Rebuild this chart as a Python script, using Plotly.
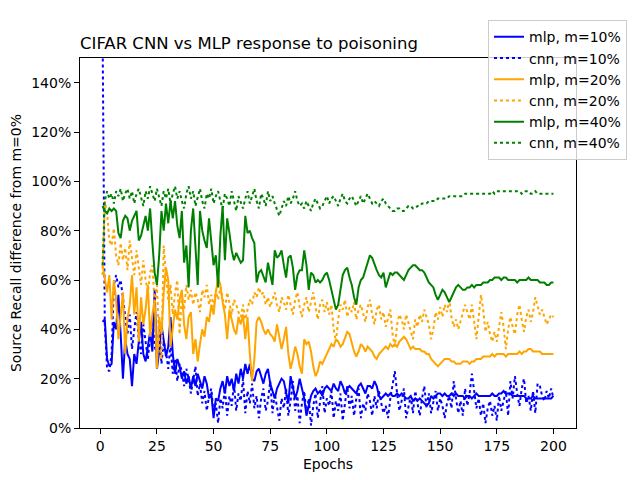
import plotly.graph_objects as go

epochs = list(range(1, 201))

mlp_10 = [
    0.43, 0.44, 0.28, 0.25, 0.26, 0.43, 0.40, 0.54, 0.38, 0.20,
    0.36, 0.30, 0.28, 0.17, 0.30, 0.26, 0.35, 0.43, 0.30, 0.27,
    0.33, 0.39, 0.31, 0.56, 0.24, 0.31, 0.42, 0.36, 0.29, 0.33,
    0.45, 0.30, 0.22, 0.28, 0.25, 0.20, 0.23, 0.18, 0.21, 0.16,
    0.21, 0.17, 0.22, 0.19, 0.16, 0.21, 0.18, 0.12, 0.14, 0.04,
    0.12, 0.11, 0.16, 0.19, 0.14, 0.21, 0.17, 0.20, 0.15, 0.22,
    0.18, 0.24, 0.20, 0.26, 0.22, 0.26, 0.20, 0.19, 0.23, 0.24,
    0.21, 0.18, 0.22, 0.24, 0.18, 0.15, 0.12, 0.16, 0.18, 0.20,
    0.19, 0.14, 0.10, 0.21, 0.17, 0.12, 0.15, 0.20, 0.16, 0.12,
    0.05, 0.09, 0.13, 0.15, 0.16, 0.14, 0.15, 0.13, 0.16, 0.17,
    0.16, 0.15, 0.18, 0.16, 0.15, 0.19, 0.17, 0.14, 0.16, 0.17,
    0.16, 0.15, 0.14, 0.17, 0.18, 0.16, 0.14, 0.17, 0.17, 0.16,
    0.19, 0.17, 0.13, 0.12, 0.13, 0.14, 0.13, 0.14, 0.13, 0.13,
    0.14, 0.13, 0.14, 0.13, 0.12, 0.12, 0.13, 0.11, 0.12, 0.11,
    0.12, 0.11, 0.10, 0.09, 0.10, 0.13, 0.12, 0.13, 0.14, 0.14,
    0.13, 0.14, 0.13, 0.13, 0.14, 0.13, 0.14, 0.13, 0.13, 0.13,
    0.12, 0.13, 0.13, 0.12, 0.13, 0.14, 0.13, 0.13, 0.13, 0.13,
    0.13, 0.13, 0.14, 0.13, 0.13, 0.14, 0.14, 0.15, 0.14, 0.14,
    0.14, 0.13, 0.13, 0.13, 0.13, 0.13, 0.13, 0.12, 0.12, 0.12,
    0.13, 0.12, 0.12, 0.12, 0.12, 0.12, 0.12, 0.12, 0.12, 0.13,
]

cnn_10 = [
    1.62, 0.42, 0.24, 0.23, 0.30, 0.58, 0.62, 0.57, 0.60, 0.52,
    0.44, 0.38, 0.46, 0.32, 0.40, 0.47, 0.36, 0.30, 0.42, 0.34,
    0.28, 0.37, 0.45, 0.33, 0.30, 0.41, 0.26, 0.35, 0.31, 0.24,
    0.34, 0.22, 0.28, 0.19, 0.26, 0.23, 0.17, 0.24, 0.20, 0.14,
    0.19, 0.25, 0.13, 0.18, 0.10, 0.15, 0.07, 0.13, 0.16, 0.06,
    0.10, 0.02, 0.12, 0.08, 0.16, 0.05, 0.13, 0.09, 0.18, 0.07,
    0.14, 0.11, 0.20, 0.06, 0.15, 0.10, 0.18, 0.08, 0.13, 0.04,
    0.12, 0.16, 0.07, 0.11, 0.19, 0.06, 0.14, 0.09, 0.03, 0.12,
    0.08, 0.16, 0.05, 0.11, 0.19, 0.07, 0.13, 0.02, 0.10, 0.15,
    0.06, 0.12, 0.01, 0.09, 0.14, 0.04, 0.11, 0.17, 0.06, 0.12,
    0.09, 0.15, 0.04, 0.11, 0.07, 0.14, 0.03, 0.10, 0.17, 0.08,
    0.13, 0.05, 0.12, 0.16, 0.04, 0.10, 0.07, 0.14, 0.11, 0.05,
    0.13, 0.08, 0.15, 0.10, 0.06, 0.09, 0.04, 0.12, 0.18, 0.23,
    0.14, 0.07, 0.11, 0.16, 0.04, 0.09, 0.13, 0.06, 0.15, 0.10,
    0.05, 0.12, 0.17, 0.08, 0.14, 0.06, 0.11, 0.15, 0.07, 0.12,
    0.09, 0.04, 0.10, 0.13, 0.08, 0.19, 0.12, 0.06, 0.11, 0.05,
    0.16, 0.09, 0.14, 0.22, 0.15, 0.08, 0.12, 0.05, 0.10, 0.02,
    0.08, 0.11, 0.05, 0.09, 0.03, 0.13, 0.07, 0.11, 0.15, 0.05,
    0.19, 0.12, 0.21, 0.14, 0.09, 0.16, 0.20, 0.10, 0.13, 0.07,
    0.15, 0.06, 0.18, 0.17, 0.13, 0.11, 0.15, 0.12, 0.16, 0.12,
]

mlp_20 = [
    0.66, 0.60, 0.55, 0.62, 0.44, 0.60, 0.52, 0.36, 0.47, 0.55,
    0.30, 0.44, 0.50, 0.62, 0.46, 0.57, 0.35, 0.53, 0.42, 0.48,
    0.58, 0.37, 0.46, 0.52, 0.24, 0.45, 0.38, 0.55, 0.65, 0.60,
    0.33, 0.40, 0.48, 0.44, 0.52, 0.56, 0.42, 0.36, 0.45, 0.47,
    0.30, 0.36, 0.27, 0.34, 0.40, 0.37, 0.45, 0.43, 0.50, 0.46,
    0.55, 0.61, 0.58, 0.51, 0.46, 0.36, 0.48, 0.44, 0.40, 0.38,
    0.45, 0.42, 0.46, 0.36, 0.45, 0.30, 0.19, 0.28, 0.43, 0.45,
    0.43, 0.40, 0.38, 0.40, 0.38, 0.37, 0.35, 0.42, 0.37, 0.32,
    0.36, 0.41, 0.30, 0.24, 0.28, 0.33, 0.30, 0.25, 0.22, 0.36,
    0.34, 0.35, 0.31, 0.25, 0.21, 0.23, 0.27, 0.26, 0.28, 0.30,
    0.32, 0.34, 0.33, 0.36, 0.35, 0.33, 0.34, 0.37, 0.39, 0.38,
    0.34, 0.31, 0.29, 0.31, 0.34, 0.33, 0.31, 0.33, 0.32, 0.31,
    0.29, 0.28, 0.30, 0.31, 0.32, 0.33, 0.32, 0.34, 0.33, 0.34,
    0.33, 0.35, 0.36, 0.37, 0.36, 0.34, 0.32, 0.33, 0.32, 0.32,
    0.32, 0.31, 0.31, 0.30, 0.30, 0.28, 0.27, 0.26, 0.25, 0.26,
    0.27, 0.28, 0.28, 0.28, 0.27, 0.27, 0.26, 0.26, 0.26, 0.27,
    0.27, 0.27, 0.26, 0.27, 0.27, 0.28, 0.28, 0.28, 0.29, 0.29,
    0.29, 0.29, 0.30, 0.29, 0.30, 0.30, 0.30, 0.30, 0.29, 0.30,
    0.30, 0.30, 0.30, 0.30, 0.31, 0.30, 0.31, 0.31, 0.32, 0.32,
    0.31, 0.31, 0.31, 0.31, 0.30, 0.30, 0.30, 0.30, 0.30, 0.30,
]

cnn_20 = [
    0.62, 0.92, 0.87, 0.76, 0.74, 0.81, 0.70, 0.66, 0.75, 0.68,
    0.73, 0.64, 0.76, 0.70, 0.62, 0.72, 0.66, 0.58, 0.68, 0.60,
    0.55, 0.63, 0.66, 0.50, 0.58, 0.34, 0.28, 0.74, 0.62, 0.52,
    0.58, 0.46, 0.55, 0.60, 0.38, 0.54, 0.48, 0.58, 0.52, 0.56,
    0.50, 0.55, 0.52, 0.47, 0.56, 0.53, 0.58, 0.50, 0.54, 0.49,
    0.56, 0.52, 0.57, 0.53, 0.48, 0.55, 0.51, 0.46, 0.52, 0.50,
    0.47, 0.45, 0.50, 0.44, 0.48, 0.52, 0.50, 0.55, 0.53, 0.57,
    0.54, 0.55, 0.50, 0.53, 0.49, 0.52, 0.55, 0.50, 0.47, 0.53,
    0.51, 0.48, 0.54, 0.50, 0.46, 0.52, 0.55, 0.49, 0.45, 0.50,
    0.53, 0.47, 0.51, 0.55, 0.49, 0.44, 0.50, 0.52, 0.47, 0.51,
    0.46, 0.50, 0.40, 0.35, 0.44, 0.50, 0.48, 0.52, 0.45, 0.49,
    0.47, 0.51, 0.44, 0.48, 0.50, 0.46, 0.43, 0.49, 0.52, 0.46,
    0.42, 0.48, 0.50, 0.44, 0.47, 0.41, 0.45, 0.48, 0.38, 0.33,
    0.42, 0.46, 0.44, 0.40, 0.46, 0.43, 0.39, 0.36, 0.44, 0.41,
    0.46, 0.43, 0.48, 0.45, 0.42, 0.36, 0.40, 0.47, 0.44, 0.49,
    0.45, 0.50, 0.47, 0.52, 0.45, 0.41, 0.44, 0.40, 0.43, 0.46,
    0.50, 0.47, 0.44, 0.50, 0.42, 0.36, 0.45, 0.54, 0.48, 0.39,
    0.43, 0.38, 0.35, 0.39, 0.35, 0.42, 0.47, 0.41, 0.32, 0.40,
    0.45, 0.41, 0.38, 0.46, 0.50, 0.44, 0.39, 0.45, 0.48, 0.43,
    0.47, 0.53, 0.49, 0.46, 0.48, 0.45, 0.42, 0.44, 0.46, 0.45,
]

mlp_40 = [
    0.90, 0.88, 0.87, 0.89, 0.88, 0.89, 0.88, 0.79, 0.77, 0.84,
    0.86, 0.85, 0.80, 0.84, 0.86, 0.88, 0.76, 0.78, 0.82, 0.86,
    0.80, 0.89, 0.75, 0.63, 0.58, 0.70, 0.88, 0.80, 0.91, 0.83,
    0.92, 0.85, 0.92, 0.82, 0.77, 0.88, 0.67, 0.74, 0.57, 0.80,
    0.89, 0.72, 0.58, 0.88, 0.80, 0.76, 0.73, 0.85, 0.75, 0.66,
    0.70, 0.57, 0.78, 0.90, 0.68, 0.85, 0.79, 0.72, 0.68, 0.71,
    0.69, 0.67, 0.68, 0.86, 0.79, 0.80, 0.77, 0.75, 0.59, 0.63,
    0.64, 0.61, 0.59, 0.67, 0.62, 0.58, 0.72, 0.69, 0.70, 0.72,
    0.66, 0.61, 0.69, 0.70, 0.65, 0.56, 0.62, 0.64, 0.64, 0.72,
    0.66, 0.56, 0.63, 0.62, 0.59, 0.60, 0.59, 0.60, 0.62, 0.63,
    0.60, 0.56, 0.52, 0.48, 0.50, 0.56, 0.62, 0.64, 0.65, 0.61,
    0.58, 0.53, 0.50, 0.57, 0.60, 0.61, 0.64, 0.68, 0.70, 0.69,
    0.66, 0.64, 0.62, 0.61, 0.63, 0.57, 0.60, 0.63, 0.62, 0.63,
    0.63, 0.62, 0.61, 0.60, 0.62, 0.64, 0.65, 0.66, 0.66, 0.65,
    0.64, 0.64, 0.63, 0.61, 0.59, 0.58, 0.57, 0.54, 0.52, 0.54,
    0.56, 0.55, 0.53, 0.51, 0.53, 0.55, 0.57, 0.58, 0.57, 0.56,
    0.56, 0.57, 0.57, 0.58, 0.57, 0.58, 0.58, 0.58, 0.59, 0.59,
    0.59, 0.60, 0.60, 0.61, 0.61, 0.61, 0.60, 0.61, 0.61, 0.60,
    0.60, 0.60, 0.60, 0.59, 0.60, 0.60, 0.60, 0.60, 0.61, 0.60,
    0.60, 0.60, 0.60, 0.59, 0.59, 0.59, 0.58, 0.58, 0.59, 0.59,
]

cnn_40 = [
    0.66, 0.92, 0.96, 0.93, 0.95, 0.91, 0.96, 0.94, 0.97, 0.92,
    0.95, 0.97, 0.93, 0.96, 0.91, 0.95, 0.97, 0.94, 0.90, 0.96,
    0.93, 0.98, 0.95, 0.92, 0.97, 0.94, 0.90, 0.96, 0.93, 0.97,
    0.91, 0.95, 0.98, 0.93, 0.96, 0.92, 0.89, 0.95, 0.98, 0.93,
    0.96, 0.90, 0.94, 0.97, 0.92, 0.89, 0.95, 0.93, 0.97, 0.91,
    0.94, 0.96, 0.92, 0.89, 0.95, 0.93, 0.90, 0.96, 0.92, 0.88,
    0.94, 0.91, 0.89, 0.93, 0.96, 0.91, 0.94, 0.97, 0.92, 0.89,
    0.95, 0.93, 0.90, 0.96, 0.92, 0.94, 0.91, 0.88, 0.86, 0.89,
    0.92, 0.90, 0.94, 0.91, 0.93, 0.96, 0.92, 0.90, 0.91, 0.89,
    0.92, 0.90, 0.88, 0.91, 0.93, 0.91, 0.89, 0.90, 0.92, 0.94,
    0.91, 0.93, 0.94, 0.92, 0.90, 0.93, 0.95, 0.92, 0.91, 0.93,
    0.94, 0.92, 0.90, 0.92, 0.94, 0.91, 0.93, 0.95, 0.93, 0.91,
    0.92, 0.91, 0.90, 0.92, 0.93, 0.91, 0.90, 0.89, 0.88, 0.88,
    0.89, 0.89, 0.88, 0.88, 0.89, 0.90, 0.90, 0.89, 0.89, 0.90,
    0.90, 0.91, 0.91, 0.91, 0.92, 0.92, 0.92, 0.92, 0.93, 0.93,
    0.93, 0.93, 0.93, 0.94, 0.94, 0.94, 0.94, 0.94, 0.94, 0.94,
    0.95, 0.95, 0.95, 0.95, 0.95, 0.95, 0.95, 0.95, 0.95, 0.95,
    0.95, 0.95, 0.96, 0.95, 0.96, 0.96, 0.96, 0.96, 0.96, 0.96,
    0.96, 0.96, 0.96, 0.96, 0.96, 0.95, 0.96, 0.96, 0.96, 0.95,
    0.95, 0.96, 0.95, 0.95, 0.95, 0.95, 0.95, 0.95, 0.95, 0.95,
]

series = [
    ("mlp, m=10%", mlp_10, "blue", "solid"),
    ("cnn, m=10%", cnn_10, "blue", "dot"),
    ("mlp, m=20%", mlp_20, "orange", "solid"),
    ("cnn, m=20%", cnn_20, "orange", "dot"),
    ("mlp, m=40%", mlp_40, "green", "solid"),
    ("cnn, m=40%", cnn_40, "green", "dot"),
]

fig = go.Figure()
for name, vals, col, dash in series:
    fig.add_trace(go.Scatter(
        x=epochs, y=vals, name=name, mode="lines",
        line=dict(color=col, width=2, dash=dash),
    ))

axis_style = dict(
    showgrid=False, zeroline=False, showline=True, linecolor="black",
    linewidth=1, mirror=True, ticks="outside", ticklen=5, tickcolor="black",
    tickfont=dict(size=14, color="black"), automargin=False,
)

fig.update_layout(
    width=640, height=480,
    margin=dict(l=80, r=64, t=58, b=52, autoexpand=False),
    paper_bgcolor="white", plot_bgcolor="white",
    font=dict(family="DejaVu Sans", size=14, color="black"),
    title=dict(text="CIFAR CNN vs MLP response to poisoning",
               x=80 / 640, xanchor="left", y=1 - 43 / 480, yanchor="middle",
               font=dict(size=16.5)),
    xaxis=dict(range=[-8.95, 209.95], dtick=25, tick0=0,
               title=dict(text="Epochs", standoff=6, font=dict(size=14)),
               **axis_style),
    yaxis=dict(range=[0, 1.5], dtick=0.2, tick0=0, tickformat=".0%",
               title=dict(text="Source Recall difference from m=0%",
                          standoff=6, font=dict(size=14)),
               **axis_style),
    legend=dict(x=0.8226, y=1.102, xanchor="left", yanchor="top",
                bgcolor="rgba(255,255,255,0.8)", bordercolor="#cccccc",
                borderwidth=1, font=dict(size=14), tracegroupgap=0),
)

# the page's default body margin would shift the figure by 8px
fig.write_html("out.html", config={"displayModeBar": False},
               post_script="document.body.style.margin = '0';")
